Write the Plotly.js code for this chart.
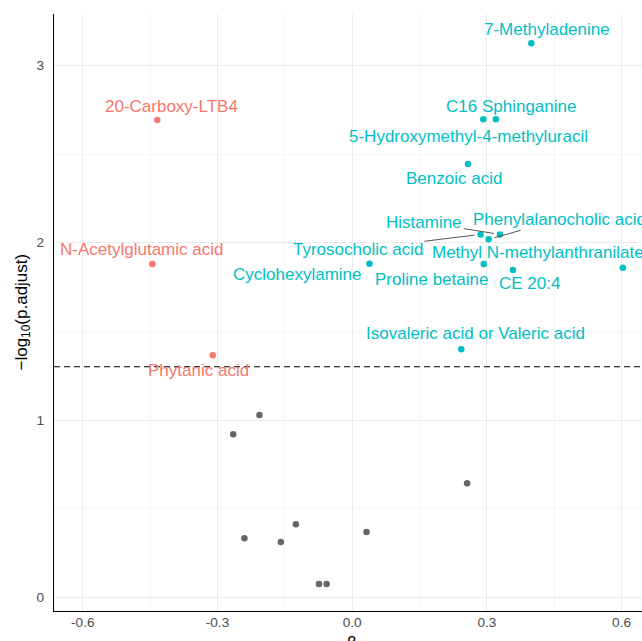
<!DOCTYPE html>
<html>
<head>
<meta charset="utf-8">
<script src="https://cdn.plot.ly/plotly-3.0.1.min.js"></script>
<style>html,body{margin:0;padding:0;background:#fff;}#chart{width:642px;height:641px;}</style>
</head>
<body>
<div id="chart"></div>
<script>
// ---- data ----
const upNames = ["7-Methyladenine", "C16 Sphinganine", "5-Hydroxymethyl-4-methyluracil", "Benzoic acid",
  "Histamine", "Tyrosocholic acid", "Phenylalanocholic acid", "Cyclohexylamine", "Proline betaine",
  "Methyl N-methylanthranilate", "CE 20:4", "Isovaleric acid or Valeric acid"];
const upBeta = [0.399, 0.320, 0.292, 0.258, 0.329, 0.286, 0.304, 0.0385, 0.293, 0.603, 0.358, 0.243];
const upLogP = [3.125, 2.696, 2.696, 2.444, 2.047, 2.047, 2.019, 1.882, 1.880, 1.859, 1.846, 1.399];

const downNames = ["20-Carboxy-LTB4", "N-Acetylglutamic acid", "Phytanic acid"];
const downBeta = [-0.434, -0.445, -0.3105];
const downLogP = [2.692, 1.880, 1.365];

const nsBeta = [-0.2065, -0.265, 0.256, -0.1255, -0.24, -0.159, 0.032, -0.074, -0.057];
const nsLogP = [1.028, 0.919, 0.643, 0.412, 0.333, 0.312, 0.368, 0.075, 0.075];

const threshold = 1.3;
const xTicks = [-0.6, -0.3, 0.0, 0.3, 0.6];
const xTickText = ["-0.6", "-0.3", "0.0", "0.3", "0.6"];
const xMinor = [-0.45, -0.15, 0.15, 0.45];
const yTicks = [0, 1, 2, 3];
const yMinor = [0.5, 1.5, 2.5];

// ---- label placement (pixel offsets from the point; dy positive = up) ----
const labelOffsets = {
  "7-Methyladenine": [15.6, 13.3, false],
  "C16 Sphinganine": [15, 13.3, false],
  "5-Hydroxymethyl-4-methyluracil": [-14.4, -16.7, false],
  "Benzoic acid": [-14.4, -14.3, false],
  "Histamine": [-75.5, 12, true],
  "Tyrosocholic acid": [-122.7, -15, true],
  "Phenylalanocholic acid": [70.9, 20, true],
  "Cyclohexylamine": [-72, -11.3, false],
  "Proline betaine": [-52.3, -15.3, false],
  "Methyl N-methylanthranilate": [-84.8, 15.4, false],
  "CE 20:4": [16.7, -13, false],
  "Isovaleric acid or Valeric acid": [14.3, 15.3, false],
  "20-Carboxy-LTB4": [14.1, 14, false],
  "N-Acetylglutamic acid": [-10.4, 14, false],
  "Phytanic acid": [-14.5, -15.4, false]
};

const RED = "#F8766D", CYAN = "#00BFC4", GREY = "#666666";
const LABEL_FONT = "Liberation Sans, Arial, sans-serif";

const traces = [
  {x: nsBeta, y: nsLogP, type: "scatter", mode: "markers", marker: {color: GREY, size: 6.5}, hoverinfo: "skip", cliponaxis: false},
  {x: downBeta, y: downLogP, type: "scatter", mode: "markers", marker: {color: RED, size: 6.5}, cliponaxis: false},
  {x: upBeta, y: upLogP, type: "scatter", mode: "markers", marker: {color: CYAN, size: 6.5}, cliponaxis: false}
];

function makeLabels(names, xs, ys, color) {
  return names.map((n, i) => {
    const o = labelOffsets[n];
    const base = {x: xs[i], y: ys[i], xref: "x", yref: "y", text: n,
      font: {family: LABEL_FONT, size: 17, color: color}};
    if (o[2]) {
      return Object.assign(base, {showarrow: true, ax: o[0], ay: -o[1], axref: "pixel", ayref: "pixel",
        arrowhead: 0, arrowwidth: 1, arrowcolor: "#555555", standoff: 6, xanchor: "center", yanchor: "middle"});
    }
    return Object.assign(base, {showarrow: false, xshift: o[0], yshift: o[1], xanchor: "center", yanchor: "middle"});
  });
}

const annotations = []
  .concat(makeLabels(upNames, upBeta, upLogP, CYAN))
  .concat(makeLabels(downNames, downBeta, downLogP, RED))
  .concat([
    {xref: "paper", yref: "paper", x: -0.0544, y: 0.5, xanchor: "center", yanchor: "middle", textangle: -90,
     showarrow: false, text: "\u2212log<sub>10</sub>(p.adjust)", font: {family: LABEL_FONT, size: 17, color: "#000"}},
    {xref: "paper", yref: "paper", x: 0.506, y: -0.0335, xanchor: "center", yanchor: "top",
     showarrow: false, text: "\u03b2", font: {family: LABEL_FONT, size: 17, color: "#000"}}
  ]);

const layout = {
  width: 642, height: 641,
  margin: {l: 54, r: 0, t: 14, b: 30, pad: 0},
  paper_bgcolor: "#fff", plot_bgcolor: "#fff",
  showlegend: false,
  font: {family: LABEL_FONT},
  xaxis: {
    range: [-0.6641, 0.6455], zeroline: false,
    tickmode: "array", tickvals: xTicks, ticktext: xTickText,
    showgrid: true, gridcolor: "#EBEBEB", gridwidth: 1,
    minor: {tickmode: "array", tickvals: xMinor, showgrid: true, gridcolor: "#F0F0F0", gridwidth: 0.6, ticks: ""},
    showline: true, linecolor: "#000", linewidth: 1.2,
    ticks: "", ticklabelstandoff: -2,
    tickfont: {family: LABEL_FONT, size: 13.6, color: "#4D4D4D"}
  },
  yaxis: {
    range: [-0.0773, 3.29], zeroline: false,
    tickmode: "array", tickvals: yTicks,
    showgrid: true, gridcolor: "#EBEBEB", gridwidth: 1,
    minor: {tickmode: "array", tickvals: yMinor, showgrid: true, gridcolor: "#F0F0F0", gridwidth: 0.6, ticks: ""},
    showline: true, linecolor: "#000", linewidth: 1.2,
    ticks: "", ticklabelstandoff: 6,
    tickfont: {family: LABEL_FONT, size: 13.6, color: "#4D4D4D"}
  },
  shapes: [
    {type: "line", xref: "paper", yref: "y", x0: 0, x1: 1, y0: threshold, y1: threshold,
     line: {color: "#000", width: 1.1, dash: "6px,4px"}}
  ],
  annotations: annotations
};

Plotly.newPlot("chart", traces, layout, {staticPlot: true, displayModeBar: false});
</script>
</body>
</html>
